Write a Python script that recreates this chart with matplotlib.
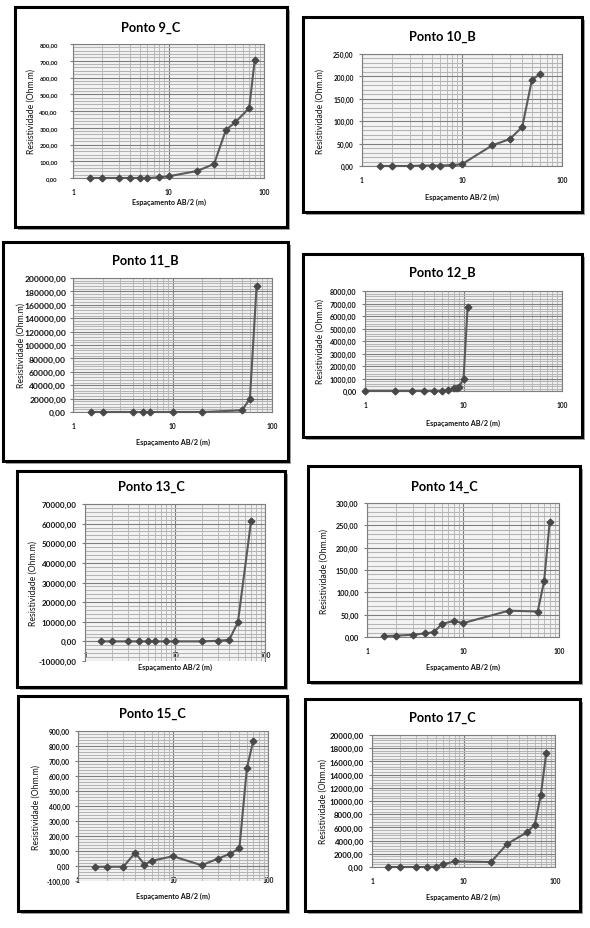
import matplotlib.pyplot as plt
from matplotlib.patches import Rectangle
from matplotlib.ticker import FixedLocator, FuncFormatter, MultipleLocator, NullFormatter

plt.rcParams['font.family'] = ['Lato', 'DejaVu Sans']

W, H = 590, 929

# AB/2 (m) and resistividade (Ohm.m) for each ponto
ab_9c = [1.5, 2, 3, 4, 5, 6, 8, 10, 20, 30, 40, 50, 70, 80]
res_9c = [0, 0, 0, 0, 0, 0, 4, 10, 42, 84, 288, 332, 418, 705]

ab_10b = [1.5, 2, 3, 4, 5, 6, 8, 10, 20, 30, 40, 50, 60]
res_10b = [0, 0, 0, 1, 1, 1, 2, 4, 46, 60, 87, 192, 205]

ab_11b = [1.5, 2, 4, 5, 6, 10, 20, 50, 60, 70]
res_11b = [0, 0, 0, 0, 0, 0, 0, 2500, 20000, 188000]

ab_12b = [1, 2, 3, 4, 5, 6, 7, 8, 8.5, 9, 10, 11]
res_12b = [0, 0, 0, 0, 0, 0, 50, 210, 270, 350, 940, 6690]

ab_13c = [1.5, 2, 3, 4, 5, 6, 8, 10, 20, 30, 40, 50, 70]
res_13c = [0, 0, 0, 0, 0, 0, 0, 0, 0, 300, 800, 9700, 61300]

ab_14c = [1.5, 2, 3, 4, 5, 6, 8, 10, 30, 60, 70, 80]
res_14c = [2, 3, 5, 8, 11, 29, 36, 31, 59, 57, 125, 258]

ab_15c = [1.5, 2, 3, 4, 5, 6, 10, 20, 30, 40, 50, 60, 70]
res_15c = [-5, -5, -5, 88, 10, 35, 65, 5, 50, 82, 118, 655, 835]

ab_17c = [1.5, 2, 3, 4, 5, 6, 8, 20, 30, 50, 60, 70, 80]
res_17c = [0, 0, 0, 0, 50, 400, 850, 750, 3500, 5300, 6400, 10900, 17200]

x_ticks = [1, 10, 100]
x_ticklabels = ['1', '10', '100']

# layout in pixels: box = chart border, area = plot area
panels = [
    dict(title='Ponto 9_C', x=ab_9c, y=res_9c, ylim=(0, 800), step=100,
         box=(15, 8, 287, 228), area=(73, 45, 264, 179), ty=28,
         yl=-42, xl=23, fs=4.3, pad=9),
    dict(title='Ponto 10_B', x=ab_10b, y=res_10b, ylim=(0, 250), step=50,
         box=(303, 18, 582, 213), area=(362, 55, 562, 167), ty=37,
         yl=-42, xl=30, fs=4.8, pad=4),
    dict(title='Ponto 11_B', x=ab_11b, y=res_11b, ylim=(0, 200000), step=20000,
         box=(3, 243, 288, 462), area=(73, 279, 272, 413), ty=261,
         yl=-52, xl=29, fs=6.1, pad=3),
    dict(title='Ponto 12_B', x=ab_12b, y=res_12b, ylim=(0, 8000), step=1000,
         box=(303, 255, 582, 438), area=(365, 292, 562, 392), ty=273,
         yl=-45, xl=31, fs=5.2, pad=4),
    dict(title='Ponto 13_C', x=ab_13c, y=res_13c, ylim=(-10000, 70000), step=10000,
         box=(17, 472, 285, 688), area=(85, 505, 265, 662), ty=487,
         yl=-52, xl=5, fs=5.8, pad=4),
    dict(title='Ponto 14_C', x=ab_14c, y=res_14c, ylim=(0, 300), step=50,
         box=(308, 467, 580, 683), area=(367, 504, 559, 638), ty=487,
         yl=-43, xl=29, fs=5.2, pad=4),
    dict(title='Ponto 15_C', x=ab_15c, y=res_15c, ylim=(-100, 900), step=100,
         box=(18, 697, 287, 912), area=(78, 732, 268, 882), ty=714,
         yl=-42, xl=14, fs=4.9, pad=4),
    dict(title='Ponto 17_C', x=ab_17c, y=res_17c, ylim=(0, 20000), step=2000,
         box=(305, 700, 580, 912), area=(372, 736, 555, 868), ty=718,
         yl=-49, xl=29, fs=5.7, pad=4),
]


def figRect(x0, y0, x1, y1):
    return [x0 / W, 1 - y1 / H, (x1 - x0) / W, (y1 - y0) / H]


def commaFmt(v, pos):
    return ('%.2f' % v).replace('.', ',')


def drawPanel(fig, p):
    bx = figRect(*p['box'])
    shadow = Rectangle((bx[0] + 3 / W, bx[1] - 3 / H), bx[2], bx[3],
                       transform=fig.transFigure, facecolor='#a0a0a0',
                       edgecolor='none', zorder=-3)
    frame = Rectangle((bx[0], bx[1]), bx[2], bx[3], transform=fig.transFigure,
                      facecolor='white', edgecolor='black', lw=2.2, zorder=-2)
    fig.add_artist(shadow)
    fig.add_artist(frame)

    cx = (p['box'][0] + p['box'][2]) / 2
    fig.text(cx / W, 1 - p['ty'] / H, p['title'], ha='center', va='center',
             fontsize=9.2, fontweight='bold', color='#000000')

    ax = fig.add_axes(figRect(*p['area']))
    ax.set_facecolor('#f4f4f4')
    ax.plot(p['x'], p['y'], color='#5a5a5a', lw=1.5, marker='D', ms=3.4,
            mfc='#484848', mec='#484848', zorder=3, clip_on=False)
    ax.set_xscale('log')
    ax.set_xlim(1, 100)
    ax.set_ylim(*p['ylim'])

    ax.xaxis.set_major_locator(FixedLocator(x_ticks))
    ax.set_xticklabels(x_ticklabels)
    ax.xaxis.set_minor_locator(FixedLocator([2, 3, 4, 5, 6, 7, 8, 9,
                                             20, 30, 40, 50, 60, 70, 80, 90]))
    ax.xaxis.set_minor_formatter(NullFormatter())
    ax.yaxis.set_major_locator(MultipleLocator(p['step']))
    ax.yaxis.set_minor_locator(MultipleLocator(p['step'] / 5))
    ax.yaxis.set_major_formatter(FuncFormatter(commaFmt))

    ax.set_axisbelow(True)
    ax.grid(which='major', color='#7e7e7e', lw=0.8)
    ax.grid(which='minor', axis='y', color='#b4b4b4', lw=0.8)
    ax.grid(which='minor', axis='x', color='#bcbcbc', lw=0.7)
    for s in ax.spines.values():
        s.set_color('#7e7e7e')
        s.set_linewidth(0.8)
    if p['ylim'][0] < 0:
        ax.spines['bottom'].set_position(('data', 0))

    ax.tick_params(axis='x', which='both', length=0, pad=7, labelsize=4.8,
                   labelcolor='#111111')
    ax.tick_params(axis='y', which='major', length=2, color='#7e7e7e',
                   pad=p['pad'], labelsize=p['fs'], labelcolor='#111111')
    ax.tick_params(axis='y', which='minor', length=0)
    for lab in ax.get_xticklabels() + ax.get_yticklabels():
        lab.set_fontweight('bold')

    aw = p['area'][2] - p['area'][0]
    ah = p['area'][3] - p['area'][1]
    ax.set_xlabel('Espaçamento AB/2 (m)', fontsize=5.2, fontweight='bold',
                  color='#111111', va='center')
    ax.xaxis.set_label_coords(0.5, -p['xl'] / ah)
    ax.set_ylabel('Resistividade (Ohm.m)', fontsize=6.2, color='#111111',
                  va='center')
    ax.yaxis.set_label_coords(p['yl'] / aw, 0.5)


fig = plt.figure(figsize=(W / 100, H / 100), dpi=100)
for p in panels:
    drawPanel(fig, p)
fig.savefig('out.png', dpi=100, facecolor='white')
